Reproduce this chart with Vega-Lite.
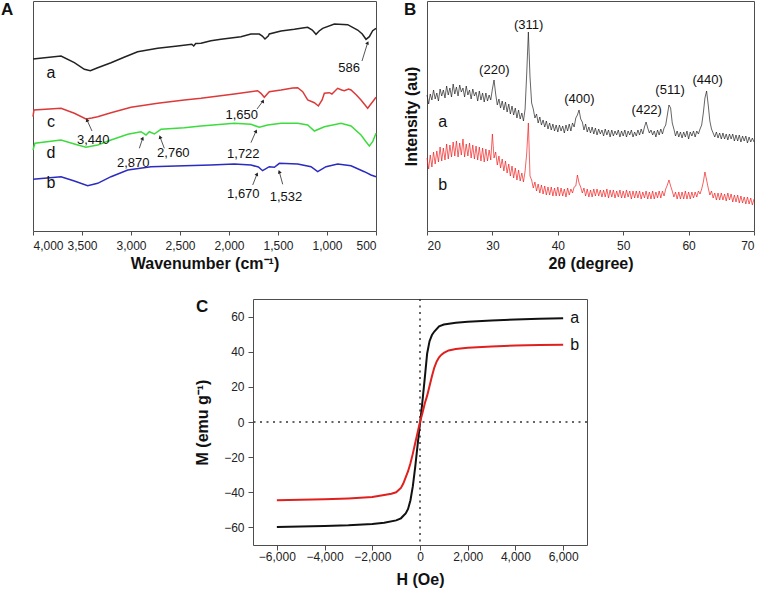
{
  "$schema": "https://vega.github.io/schema/vega-lite/v6.json",
  "padding": {"left": 0, "top": 0, "right": 0, "bottom": 0},
  "background": "white",
  "config": {
    "font": "Liberation Sans",
    "view": {"stroke": "#4d4d4d", "strokeWidth": 1},
    "axis": {"labelFont": "Liberation Sans", "labelFontSize": 12, "labelColor": "#222", "titleFont": "Liberation Sans", "titleFontSize": 16, "titleFontWeight": "bold", "titleColor": "#111", "grid": false, "domain": false, "ticks": true, "tickColor": "#4d4d4d", "tickSize": 4},
    "title": {"font": "Liberation Sans", "fontSize": 17, "fontWeight": "bold", "anchor": "start", "frame": "group", "color": "#111", "baseline": "top", "offset": 0}
  },
  "datasets": {
    "ftir": [
      {"s":"a","w":4000,"v":172},{"s":"a","w":3714,"v":175},{"s":"a","w":3578,"v":168.3},{"s":"a","w":3476,"v":161.7},{"s":"a","w":3415,"v":160.3},{"s":"a","w":3340,"v":163.3},{"s":"a","w":3204,"v":168.3},{"s":"a","w":3071,"v":173.7},{"s":"a","w":2932,"v":179.3},{"s":"a","w":2728,"v":182.7},{"s":"a","w":2524,"v":185},{"s":"a","w":2380,"v":186.7},{"s":"a","w":2360,"v":185},{"s":"a","w":2340,"v":187.5},{"s":"a","w":2286,"v":187.7},{"s":"a","w":2184,"v":190.3},{"s":"a","w":2082,"v":191.7},{"s":"a","w":1878,"v":194.3},{"s":"a","w":1776,"v":197},{"s":"a","w":1691,"v":197},{"s":"a","w":1660,"v":195},{"s":"a","w":1633,"v":192},{"s":"a","w":1600,"v":195},{"s":"a","w":1589,"v":197},{"s":"a","w":1469,"v":200},{"s":"a","w":1333,"v":201.7},{"s":"a","w":1250,"v":203},{"s":"a","w":1197,"v":203.7},{"s":"a","w":1150,"v":201},{"s":"a","w":1112,"v":196.7},{"s":"a","w":1080,"v":200},{"s":"a","w":1044,"v":202.7},{"s":"a","w":925,"v":207},{"s":"a","w":789,"v":206.3},{"s":"a","w":687,"v":201},{"s":"a","w":640,"v":197},{"s":"a","w":602,"v":191.7},{"s":"a","w":568,"v":194.3},{"s":"a","w":534,"v":200.3},{"s":"a","w":500,"v":202.7},
      {"s":"c","w":4000,"v":114.3},{"s":"c","w":3990,"v":121},{"s":"c","w":3714,"v":122.7},{"s":"c","w":3578,"v":117.7},{"s":"c","w":3460,"v":112},{"s":"c","w":3400,"v":113},{"s":"c","w":3340,"v":114.3},{"s":"c","w":3204,"v":118.3},{"s":"c","w":3000,"v":123.7},{"s":"c","w":2728,"v":127.7},{"s":"c","w":2456,"v":131},{"s":"c","w":2286,"v":132.7},{"s":"c","w":1946,"v":137},{"s":"c","w":1708,"v":140.3},{"s":"c","w":1674,"v":137.7},{"s":"c","w":1640,"v":133.7},{"s":"c","w":1610,"v":137},{"s":"c","w":1589,"v":139.3},{"s":"c","w":1469,"v":141},{"s":"c","w":1350,"v":143},{"s":"c","w":1299,"v":143.3},{"s":"c","w":1248,"v":139.3},{"s":"c","w":1197,"v":131},{"s":"c","w":1129,"v":128.3},{"s":"c","w":1088,"v":125},{"s":"c","w":1050,"v":131},{"s":"c","w":1027,"v":137.7},{"s":"c","w":976,"v":138.3},{"s":"c","w":950,"v":137},{"s":"c","w":891,"v":142.7},{"s":"c","w":850,"v":141},{"s":"c","w":823,"v":140.3},{"s":"c","w":780,"v":142},{"s":"c","w":755,"v":141},{"s":"c","w":700,"v":136},{"s":"c","w":653,"v":131},{"s":"c","w":585,"v":122.7},{"s":"c","w":560,"v":126},{"s":"c","w":534,"v":129.3},{"s":"c","w":500,"v":133.7},
      {"s":"d","w":4000,"v":81},{"s":"d","w":3980,"v":87.7},{"s":"d","w":3714,"v":91},{"s":"d","w":3578,"v":87},{"s":"d","w":3460,"v":83.7},{"s":"d","w":3340,"v":86},{"s":"d","w":3204,"v":91},{"s":"d","w":3033,"v":96.7},{"s":"d","w":2898,"v":99.3},{"s":"d","w":2847,"v":96},{"s":"d","w":2813,"v":99.3},{"s":"d","w":2762,"v":97},{"s":"d","w":2694,"v":101.7},{"s":"d","w":2456,"v":103.3},{"s":"d","w":2286,"v":105},{"s":"d","w":1946,"v":107.7},{"s":"d","w":1776,"v":106.7},{"s":"d","w":1691,"v":103.7},{"s":"d","w":1605,"v":106},{"s":"d","w":1469,"v":107.7},{"s":"d","w":1299,"v":107.7},{"s":"d","w":1197,"v":106},{"s":"d","w":1129,"v":100},{"s":"d","w":1027,"v":104.3},{"s":"d","w":857,"v":107.7},{"s":"d","w":755,"v":105},{"s":"d","w":653,"v":96},{"s":"d","w":600,"v":89},{"s":"d","w":568,"v":85},{"s":"d","w":534,"v":89.3},{"s":"d","w":500,"v":97.7},
      {"s":"b","w":4000,"v":51.7},{"s":"b","w":3714,"v":54.3},{"s":"b","w":3578,"v":50},{"s":"b","w":3442,"v":45.3},{"s":"b","w":3340,"v":47.7},{"s":"b","w":3204,"v":54.3},{"s":"b","w":3033,"v":61},{"s":"b","w":2796,"v":64.3},{"s":"b","w":2456,"v":65.3},{"s":"b","w":2184,"v":66},{"s":"b","w":1946,"v":67},{"s":"b","w":1776,"v":66},{"s":"b","w":1700,"v":64},{"s":"b","w":1657,"v":60.3},{"s":"b","w":1589,"v":64.3},{"s":"b","w":1537,"v":63.7},{"s":"b","w":1486,"v":67.7},{"s":"b","w":1299,"v":67},{"s":"b","w":1163,"v":64.3},{"s":"b","w":1095,"v":59.3},{"s":"b","w":1010,"v":64.3},{"s":"b","w":891,"v":67},{"s":"b","w":755,"v":65.3},{"s":"b","w":619,"v":59.3},{"s":"b","w":551,"v":56},{"s":"b","w":500,"v":54.3}
    ],
    "ftirSeriesLabels": [
      {"t":"a","w":3816,"v":158.3},{"t":"c","w":3816,"v":109.3},{"t":"d","w":3816,"v":78.3},{"t":"b","w":3816,"v":48.3}
    ],
    "ftirPeakLabels": [
      {"t":"586","w":775,"v":163},{"t":"1,650","w":1870,"v":116},{"t":"3,440","w":3385,"v":91},{"t":"2,870","w":2977,"v":68.3},{"t":"2,760","w":2568,"v":77.7},{"t":"1,722","w":1854,"v":77},{"t":"1,670","w":1854,"v":37},{"t":"1,532","w":1418,"v":34.3}
    ],
    "ftirArrows": [
      {"p":"586","w1":643,"v1":170,"w2":585,"v2":188.3},
      {"p":"1650","w1":1714,"v1":122,"w2":1653,"v2":130},
      {"p":"3440","w1":3398,"v1":100,"w2":3449,"v2":111},
      {"p":"2870","w1":2915,"v1":82.7,"w2":2881,"v2":92.7},
      {"p":"2760","w1":2660,"v1":82.7,"w2":2704,"v2":94},
      {"p":"1722","w1":1776,"v1":88.3,"w2":1724,"v2":100},
      {"p":"1670","w1":1758,"v1":46,"w2":1714,"v2":57},
      {"p":"1532","w1":1452,"v1":46.7,"w2":1487,"v2":59.3}
    ],
    "xrd": [
      {"s":"a","t":20,"v":136},{"s":"a","t":20.25,"v":127},{"s":"a","t":20.5,"v":137},{"s":"a","t":20.75,"v":131},{"s":"a","t":21,"v":141},{"s":"a","t":21.25,"v":132},{"s":"a","t":21.5,"v":138},{"s":"a","t":21.75,"v":130},{"s":"a","t":22,"v":142},{"s":"a","t":22.25,"v":135},{"s":"a","t":22.5,"v":141},{"s":"a","t":22.75,"v":133},{"s":"a","t":23,"v":145},{"s":"a","t":23.25,"v":136},{"s":"a","t":23.5,"v":143},{"s":"a","t":23.75,"v":134},{"s":"a","t":24,"v":147},{"s":"a","t":24.25,"v":137},{"s":"a","t":24.5,"v":144},{"s":"a","t":24.75,"v":135},{"s":"a","t":25,"v":146},{"s":"a","t":25.25,"v":139},{"s":"a","t":25.5,"v":143},{"s":"a","t":25.75,"v":134},{"s":"a","t":26,"v":145},{"s":"a","t":26.25,"v":136},{"s":"a","t":26.5,"v":141},{"s":"a","t":26.75,"v":132},{"s":"a","t":27,"v":142},{"s":"a","t":27.25,"v":135},{"s":"a","t":27.5,"v":139},{"s":"a","t":27.75,"v":130},{"s":"a","t":28,"v":140},{"s":"a","t":28.25,"v":131},{"s":"a","t":28.5,"v":138},{"s":"a","t":28.75,"v":129},{"s":"a","t":29,"v":138},{"s":"a","t":29.25,"v":130},{"s":"a","t":29.5,"v":136},{"s":"a","t":29.75,"v":131},{"s":"a","t":30,"v":142},{"s":"a","t":30.25,"v":151},{"s":"a","t":30.5,"v":137},{"s":"a","t":30.75,"v":126},{"s":"a","t":31,"v":132},{"s":"a","t":31.25,"v":123},{"s":"a","t":31.5,"v":130},{"s":"a","t":31.75,"v":121},{"s":"a","t":32,"v":129},{"s":"a","t":32.25,"v":119},{"s":"a","t":32.5,"v":127},{"s":"a","t":32.75,"v":117},{"s":"a","t":33,"v":125},{"s":"a","t":33.25,"v":116},{"s":"a","t":33.5,"v":123},{"s":"a","t":33.75,"v":113},{"s":"a","t":34,"v":121},{"s":"a","t":34.25,"v":112},{"s":"a","t":34.5,"v":118},{"s":"a","t":34.75,"v":110},{"s":"a","t":35,"v":122},{"s":"a","t":35.25,"v":158},{"s":"a","t":35.5,"v":199},{"s":"a","t":35.75,"v":154},{"s":"a","t":36,"v":128},{"s":"a","t":36.25,"v":122},{"s":"a","t":36.5,"v":113},{"s":"a","t":36.75,"v":117},{"s":"a","t":37,"v":108},{"s":"a","t":37.25,"v":114},{"s":"a","t":37.5,"v":106},{"s":"a","t":37.75,"v":111},{"s":"a","t":38,"v":104},{"s":"a","t":38.25,"v":110},{"s":"a","t":38.5,"v":102},{"s":"a","t":38.75,"v":108},{"s":"a","t":39,"v":101},{"s":"a","t":39.25,"v":107},{"s":"a","t":39.5,"v":100},{"s":"a","t":39.75,"v":106},{"s":"a","t":40,"v":99},{"s":"a","t":40.25,"v":106},{"s":"a","t":40.5,"v":100},{"s":"a","t":40.75,"v":105},{"s":"a","t":41,"v":98},{"s":"a","t":41.25,"v":106},{"s":"a","t":41.5,"v":100},{"s":"a","t":41.75,"v":107},{"s":"a","t":42,"v":100},{"s":"a","t":42.25,"v":108},{"s":"a","t":42.5,"v":104},{"s":"a","t":42.75,"v":113},{"s":"a","t":43,"v":116},{"s":"a","t":43.25,"v":121},{"s":"a","t":43.5,"v":112},{"s":"a","t":43.75,"v":109},{"s":"a","t":44,"v":101},{"s":"a","t":44.25,"v":107},{"s":"a","t":44.5,"v":99},{"s":"a","t":44.75,"v":104},{"s":"a","t":45,"v":98},{"s":"a","t":45.25,"v":104},{"s":"a","t":45.5,"v":97},{"s":"a","t":45.75,"v":103},{"s":"a","t":46,"v":96},{"s":"a","t":46.25,"v":102},{"s":"a","t":46.5,"v":97},{"s":"a","t":46.75,"v":101},{"s":"a","t":47,"v":95},{"s":"a","t":47.25,"v":102},{"s":"a","t":47.5,"v":96},{"s":"a","t":47.75,"v":101},{"s":"a","t":48,"v":94},{"s":"a","t":48.25,"v":101},{"s":"a","t":48.5,"v":95},{"s":"a","t":48.75,"v":100},{"s":"a","t":49,"v":96},{"s":"a","t":49.25,"v":101},{"s":"a","t":49.5,"v":94},{"s":"a","t":49.75,"v":100},{"s":"a","t":50,"v":95},{"s":"a","t":50.25,"v":101},{"s":"a","t":50.5,"v":94},{"s":"a","t":50.75,"v":100},{"s":"a","t":51,"v":96},{"s":"a","t":51.25,"v":101},{"s":"a","t":51.5,"v":94},{"s":"a","t":51.75,"v":99},{"s":"a","t":52,"v":95},{"s":"a","t":52.25,"v":101},{"s":"a","t":52.5,"v":96},{"s":"a","t":52.75,"v":102},{"s":"a","t":53,"v":97},{"s":"a","t":53.25,"v":104},{"s":"a","t":53.5,"v":109},{"s":"a","t":53.75,"v":103},{"s":"a","t":54,"v":98},{"s":"a","t":54.25,"v":101},{"s":"a","t":54.5,"v":96},{"s":"a","t":54.75,"v":100},{"s":"a","t":55,"v":94},{"s":"a","t":55.25,"v":101},{"s":"a","t":55.5,"v":96},{"s":"a","t":55.75,"v":102},{"s":"a","t":56,"v":97},{"s":"a","t":56.25,"v":103},{"s":"a","t":56.5,"v":106},{"s":"a","t":56.75,"v":116},{"s":"a","t":57,"v":126},{"s":"a","t":57.25,"v":123},{"s":"a","t":57.5,"v":108},{"s":"a","t":57.75,"v":102},{"s":"a","t":58,"v":95},{"s":"a","t":58.25,"v":100},{"s":"a","t":58.5,"v":94},{"s":"a","t":58.75,"v":99},{"s":"a","t":59,"v":93},{"s":"a","t":59.25,"v":99},{"s":"a","t":59.5,"v":94},{"s":"a","t":59.75,"v":100},{"s":"a","t":60,"v":92},{"s":"a","t":60.25,"v":99},{"s":"a","t":60.5,"v":95},{"s":"a","t":60.75,"v":100},{"s":"a","t":61,"v":94},{"s":"a","t":61.25,"v":100},{"s":"a","t":61.5,"v":97},{"s":"a","t":61.75,"v":102},{"s":"a","t":62,"v":106},{"s":"a","t":62.25,"v":118},{"s":"a","t":62.5,"v":133},{"s":"a","t":62.75,"v":140},{"s":"a","t":63,"v":126},{"s":"a","t":63.25,"v":110},{"s":"a","t":63.5,"v":102},{"s":"a","t":63.75,"v":98},{"s":"a","t":64,"v":94},{"s":"a","t":64.25,"v":99},{"s":"a","t":64.5,"v":93},{"s":"a","t":64.75,"v":98},{"s":"a","t":65,"v":92},{"s":"a","t":65.25,"v":98},{"s":"a","t":65.5,"v":92},{"s":"a","t":65.75,"v":97},{"s":"a","t":66,"v":91},{"s":"a","t":66.25,"v":97},{"s":"a","t":66.5,"v":92},{"s":"a","t":66.75,"v":97},{"s":"a","t":67,"v":90},{"s":"a","t":67.25,"v":96},{"s":"a","t":67.5,"v":90},{"s":"a","t":67.75,"v":96},{"s":"a","t":68,"v":89},{"s":"a","t":68.25,"v":95},{"s":"a","t":68.5,"v":90},{"s":"a","t":68.75,"v":95},{"s":"a","t":69,"v":88},{"s":"a","t":69.25,"v":94},{"s":"a","t":69.5,"v":89},{"s":"a","t":69.75,"v":93},{"s":"a","t":70,"v":89},
      {"s":"b","t":20,"v":73},{"s":"b","t":20.25,"v":62},{"s":"b","t":20.5,"v":76},{"s":"b","t":20.75,"v":64},{"s":"b","t":21,"v":79},{"s":"b","t":21.25,"v":67},{"s":"b","t":21.5,"v":80},{"s":"b","t":21.75,"v":69},{"s":"b","t":22,"v":84},{"s":"b","t":22.25,"v":70},{"s":"b","t":22.5,"v":83},{"s":"b","t":22.75,"v":71},{"s":"b","t":23,"v":87},{"s":"b","t":23.25,"v":72},{"s":"b","t":23.5,"v":86},{"s":"b","t":23.75,"v":74},{"s":"b","t":24,"v":89},{"s":"b","t":24.25,"v":75},{"s":"b","t":24.5,"v":90},{"s":"b","t":24.75,"v":74},{"s":"b","t":25,"v":88},{"s":"b","t":25.25,"v":76},{"s":"b","t":25.5,"v":92},{"s":"b","t":25.75,"v":74},{"s":"b","t":26,"v":87},{"s":"b","t":26.25,"v":75},{"s":"b","t":26.5,"v":88},{"s":"b","t":26.75,"v":73},{"s":"b","t":27,"v":86},{"s":"b","t":27.25,"v":72},{"s":"b","t":27.5,"v":85},{"s":"b","t":27.75,"v":71},{"s":"b","t":28,"v":84},{"s":"b","t":28.25,"v":70},{"s":"b","t":28.5,"v":83},{"s":"b","t":28.75,"v":69},{"s":"b","t":29,"v":82},{"s":"b","t":29.25,"v":70},{"s":"b","t":29.5,"v":81},{"s":"b","t":29.75,"v":71},{"s":"b","t":30,"v":97},{"s":"b","t":30.25,"v":73},{"s":"b","t":30.5,"v":79},{"s":"b","t":30.75,"v":66},{"s":"b","t":31,"v":75},{"s":"b","t":31.25,"v":63},{"s":"b","t":31.5,"v":72},{"s":"b","t":31.75,"v":60},{"s":"b","t":32,"v":70},{"s":"b","t":32.25,"v":58},{"s":"b","t":32.5,"v":67},{"s":"b","t":32.75,"v":55},{"s":"b","t":33,"v":65},{"s":"b","t":33.25,"v":53},{"s":"b","t":33.5,"v":63},{"s":"b","t":33.75,"v":51},{"s":"b","t":34,"v":61},{"s":"b","t":34.25,"v":50},{"s":"b","t":34.5,"v":58},{"s":"b","t":34.75,"v":49},{"s":"b","t":35,"v":60},{"s":"b","t":35.25,"v":78},{"s":"b","t":35.5,"v":108},{"s":"b","t":35.75,"v":55},{"s":"b","t":36,"v":51},{"s":"b","t":36.25,"v":43},{"s":"b","t":36.5,"v":49},{"s":"b","t":36.75,"v":40},{"s":"b","t":37,"v":47},{"s":"b","t":37.25,"v":38},{"s":"b","t":37.5,"v":46},{"s":"b","t":37.75,"v":37},{"s":"b","t":38,"v":45},{"s":"b","t":38.25,"v":36},{"s":"b","t":38.5,"v":44},{"s":"b","t":38.75,"v":36},{"s":"b","t":39,"v":44},{"s":"b","t":39.25,"v":35},{"s":"b","t":39.5,"v":43},{"s":"b","t":39.75,"v":35},{"s":"b","t":40,"v":44},{"s":"b","t":40.25,"v":35},{"s":"b","t":40.5,"v":43},{"s":"b","t":40.75,"v":35},{"s":"b","t":41,"v":42},{"s":"b","t":41.25,"v":34},{"s":"b","t":41.5,"v":43},{"s":"b","t":41.75,"v":36},{"s":"b","t":42,"v":42},{"s":"b","t":42.25,"v":38},{"s":"b","t":42.5,"v":44},{"s":"b","t":42.75,"v":45},{"s":"b","t":43,"v":56},{"s":"b","t":43.25,"v":48},{"s":"b","t":43.5,"v":44},{"s":"b","t":43.75,"v":38},{"s":"b","t":44,"v":43},{"s":"b","t":44.25,"v":35},{"s":"b","t":44.5,"v":42},{"s":"b","t":44.75,"v":34},{"s":"b","t":45,"v":41},{"s":"b","t":45.25,"v":34},{"s":"b","t":45.5,"v":42},{"s":"b","t":45.75,"v":35},{"s":"b","t":46,"v":42},{"s":"b","t":46.25,"v":35},{"s":"b","t":46.5,"v":41},{"s":"b","t":46.75,"v":34},{"s":"b","t":47,"v":41},{"s":"b","t":47.25,"v":34},{"s":"b","t":47.5,"v":42},{"s":"b","t":47.75,"v":33},{"s":"b","t":48,"v":41},{"s":"b","t":48.25,"v":34},{"s":"b","t":48.5,"v":41},{"s":"b","t":48.75,"v":33},{"s":"b","t":49,"v":40},{"s":"b","t":49.25,"v":34},{"s":"b","t":49.5,"v":41},{"s":"b","t":49.75,"v":33},{"s":"b","t":50,"v":40},{"s":"b","t":50.25,"v":33},{"s":"b","t":50.5,"v":41},{"s":"b","t":50.75,"v":34},{"s":"b","t":51,"v":40},{"s":"b","t":51.25,"v":32},{"s":"b","t":51.5,"v":40},{"s":"b","t":51.75,"v":33},{"s":"b","t":52,"v":40},{"s":"b","t":52.25,"v":33},{"s":"b","t":52.5,"v":40},{"s":"b","t":52.75,"v":32},{"s":"b","t":53,"v":39},{"s":"b","t":53.25,"v":33},{"s":"b","t":53.5,"v":40},{"s":"b","t":53.75,"v":32},{"s":"b","t":54,"v":39},{"s":"b","t":54.25,"v":32},{"s":"b","t":54.5,"v":40},{"s":"b","t":54.75,"v":32},{"s":"b","t":55,"v":39},{"s":"b","t":55.25,"v":33},{"s":"b","t":55.5,"v":40},{"s":"b","t":55.75,"v":33},{"s":"b","t":56,"v":40},{"s":"b","t":56.25,"v":35},{"s":"b","t":56.5,"v":42},{"s":"b","t":56.75,"v":46},{"s":"b","t":57,"v":51},{"s":"b","t":57.25,"v":45},{"s":"b","t":57.5,"v":40},{"s":"b","t":57.75,"v":34},{"s":"b","t":58,"v":39},{"s":"b","t":58.25,"v":32},{"s":"b","t":58.5,"v":39},{"s":"b","t":58.75,"v":32},{"s":"b","t":59,"v":39},{"s":"b","t":59.25,"v":32},{"s":"b","t":59.5,"v":40},{"s":"b","t":59.75,"v":32},{"s":"b","t":60,"v":39},{"s":"b","t":60.25,"v":32},{"s":"b","t":60.5,"v":39},{"s":"b","t":60.75,"v":33},{"s":"b","t":61,"v":39},{"s":"b","t":61.25,"v":34},{"s":"b","t":61.5,"v":40},{"s":"b","t":61.75,"v":37},{"s":"b","t":62,"v":42},{"s":"b","t":62.25,"v":49},{"s":"b","t":62.5,"v":59},{"s":"b","t":62.75,"v":51},{"s":"b","t":63,"v":43},{"s":"b","t":63.25,"v":36},{"s":"b","t":63.5,"v":40},{"s":"b","t":63.75,"v":33},{"s":"b","t":64,"v":38},{"s":"b","t":64.25,"v":31},{"s":"b","t":64.5,"v":38},{"s":"b","t":64.75,"v":31},{"s":"b","t":65,"v":38},{"s":"b","t":65.25,"v":31},{"s":"b","t":65.5,"v":37},{"s":"b","t":65.75,"v":30},{"s":"b","t":66,"v":38},{"s":"b","t":66.25,"v":31},{"s":"b","t":66.5,"v":37},{"s":"b","t":66.75,"v":29},{"s":"b","t":67,"v":36},{"s":"b","t":67.25,"v":29},{"s":"b","t":67.5,"v":36},{"s":"b","t":67.75,"v":28},{"s":"b","t":68,"v":35},{"s":"b","t":68.25,"v":28},{"s":"b","t":68.5,"v":34},{"s":"b","t":68.75,"v":27},{"s":"b","t":69,"v":34},{"s":"b","t":69.25,"v":27},{"s":"b","t":69.5,"v":33},{"s":"b","t":69.75,"v":26},{"s":"b","t":70,"v":32}
    ],
    "xrdLabels": [
      {"t":"(311)","x":35.55,"v":206,"k":"peak"},{"t":"(220)","x":30.29,"v":161,"k":"peak"},{"t":"(400)","x":43.29,"v":132,"k":"peak"},{"t":"(422)","x":53.6,"v":121,"k":"peak"},{"t":"(511)","x":57.16,"v":141,"k":"peak"},{"t":"(440)","x":62.92,"v":151,"k":"peak"},
      {"t":"a","x":22.4,"v":109.3,"k":"series"},{"t":"b","x":22.4,"v":46,"k":"series"}
    ],
    "mh": [
      {"s":"a","h":-6000,"m":-59.7},{"s":"a","h":-5000,"m":-59.5},{"s":"a","h":-4000,"m":-59.2},{"s":"a","h":-3000,"m":-58.8},{"s":"a","h":-2000,"m":-58},{"s":"a","h":-1500,"m":-57.3},{"s":"a","h":-1000,"m":-56},{"s":"a","h":-800,"m":-54.8},{"s":"a","h":-600,"m":-52},{"s":"a","h":-500,"m":-49.5},{"s":"a","h":-400,"m":-44.5},{"s":"a","h":-300,"m":-36.5},{"s":"a","h":-200,"m":-25.5},{"s":"a","h":-100,"m":-13},{"s":"a","h":0,"m":-1},{"s":"a","h":100,"m":11.5},{"s":"a","h":200,"m":25},{"s":"a","h":300,"m":39},{"s":"a","h":400,"m":46},{"s":"a","h":500,"m":49.5},{"s":"a","h":600,"m":51.5},{"s":"a","h":800,"m":54.5},{"s":"a","h":1000,"m":55.5},{"s":"a","h":1500,"m":56.5},{"s":"a","h":2000,"m":57},{"s":"a","h":3000,"m":57.8},{"s":"a","h":4000,"m":58.3},{"s":"a","h":5000,"m":58.7},{"s":"a","h":6000,"m":59},
      {"s":"b","h":-6000,"m":-44.5},{"s":"b","h":-5000,"m":-44.3},{"s":"b","h":-4000,"m":-44},{"s":"b","h":-3000,"m":-43.5},{"s":"b","h":-2000,"m":-42.7},{"s":"b","h":-1500,"m":-41.5},{"s":"b","h":-1200,"m":-40.8},{"s":"b","h":-1000,"m":-40},{"s":"b","h":-800,"m":-37.5},{"s":"b","h":-700,"m":-35},{"s":"b","h":-600,"m":-31.5},{"s":"b","h":-500,"m":-28},{"s":"b","h":-400,"m":-23.5},{"s":"b","h":-300,"m":-18},{"s":"b","h":-200,"m":-12},{"s":"b","h":-100,"m":-6},{"s":"b","h":0,"m":0},{"s":"b","h":100,"m":5},{"s":"b","h":200,"m":10.5},{"s":"b","h":300,"m":15},{"s":"b","h":400,"m":20.5},{"s":"b","h":500,"m":26},{"s":"b","h":600,"m":31},{"s":"b","h":700,"m":34.5},{"s":"b","h":800,"m":36.8},{"s":"b","h":900,"m":38.3},{"s":"b","h":1000,"m":39.3},{"s":"b","h":1200,"m":40.7},{"s":"b","h":1500,"m":41.5},{"s":"b","h":2000,"m":42.3},{"s":"b","h":3000,"m":43},{"s":"b","h":4000,"m":43.5},{"s":"b","h":5000,"m":43.8},{"s":"b","h":6000,"m":44}
    ],
    "zeroLines": [{"z": 0}]
  },
  "spacing": 25,
  "resolve": {"scale": {"color": "independent"}},
  "vconcat": [
    {
      "spacing": 51,
      "bounds": "flush",
      "resolve": {"scale": {"color": "independent"}},
      "hconcat": [
        {
          "width": 343,
          "height": 230,
          "title": {"text": "A", "dx": -32, "dy": 22},
          "layer": [
            {
              "data": {"name": "ftir"},
              "mark": {"type": "line", "strokeWidth": 1.5},
              "encoding": {
                "x": {"field": "w", "type": "quantitative", "scale": {"domain": [4000, 500], "nice": false, "zero": false}, "axis": {"values": [4000, 3500, 3000, 2500, 2000, 1500, 1000, 500], "format": ",.0f", "title": "Wavenumber (cm⁻¹)", "labelPadding": 5, "titlePadding": 4}},
                "y": {"field": "v", "type": "quantitative", "scale": {"domain": [0, 230], "nice": false, "zero": false}, "axis": null},
                "color": {"field": "s", "type": "nominal", "scale": {"domain": ["a", "c", "d", "b"], "range": ["#222222", "#dc3a3a", "#3ddc3d", "#2b2bc0"]}, "legend": null}
              }
            },
            {
              "data": {"name": "ftirSeriesLabels"},
              "mark": {"type": "text", "fontSize": 16, "color": "#111", "align": "center", "baseline": "middle"},
              "encoding": {
                "x": {"field": "w", "type": "quantitative"},
                "y": {"field": "v", "type": "quantitative"},
                "text": {"field": "t"}
              }
            },
            {
              "data": {"name": "ftirPeakLabels"},
              "mark": {"type": "text", "fontSize": 13, "color": "#111", "align": "center", "baseline": "middle"},
              "encoding": {
                "x": {"field": "w", "type": "quantitative"},
                "y": {"field": "v", "type": "quantitative"},
                "text": {"field": "t"}
              }
            },
            {
              "data": {"name": "ftirArrows"},
              "mark": {"type": "rule", "color": "#555", "strokeWidth": 1},
              "encoding": {
                "x": {"field": "w1", "type": "quantitative"},
                "y": {"field": "v1", "type": "quantitative"},
                "x2": {"field": "w2"},
                "y2": {"field": "v2"}
              }
            },
            {
              "data": {"name": "ftirArrows"},
              "transform": [{"filter": "datum.w1 > datum.w2"}],
              "mark": {"type": "point", "shape": "triangle-up", "filled": true, "color": "#222", "size": 16, "angle": 25, "opacity": 1},
              "encoding": {
                "x": {"field": "w2", "type": "quantitative"},
                "y": {"field": "v2", "type": "quantitative"}
              }
            },
            {
              "data": {"name": "ftirArrows"},
              "transform": [{"filter": "datum.w1 < datum.w2"}],
              "mark": {"type": "point", "shape": "triangle-up", "filled": true, "color": "#222", "size": 16, "angle": -20, "opacity": 1},
              "encoding": {
                "x": {"field": "w2", "type": "quantitative"},
                "y": {"field": "v2", "type": "quantitative"}
              }
            }
          ]
        },
        {
          "width": 327,
          "height": 230,
          "title": {"text": "B", "dx": -23, "dy": 22},
          "layer": [
            {
              "data": {"name": "xrd"},
              "mark": {"type": "line", "strokeWidth": 0.8, "opacity": 0.85},
              "encoding": {
                "x": {"field": "t", "type": "quantitative", "scale": {"domain": [20, 70], "nice": false, "zero": false}, "axis": {"values": [20, 30, 40, 50, 60, 70], "format": "d", "title": "2θ (degree)", "labelPadding": 5, "titlePadding": 4}},
                "y": {"field": "v", "type": "quantitative", "scale": {"domain": [0, 230], "nice": false, "zero": false}, "axis": {"labels": false, "ticks": false, "title": "Intensity (au)", "titlePadding": 8}},
                "color": {"field": "s", "type": "nominal", "scale": {"domain": ["a", "b"], "range": ["#1a1a1a", "#f01818"]}, "legend": null}
              }
            },
            {
              "data": {"name": "xrdLabels"},
              "transform": [{"filter": "datum.k == 'peak'"}],
              "mark": {"type": "text", "fontSize": 13, "color": "#111", "align": "center", "baseline": "middle"},
              "encoding": {
                "x": {"field": "x", "type": "quantitative"},
                "y": {"field": "v", "type": "quantitative"},
                "text": {"field": "t"}
              }
            },
            {
              "data": {"name": "xrdLabels"},
              "transform": [{"filter": "datum.k == 'series'"}],
              "mark": {"type": "text", "fontSize": 16, "color": "#111", "align": "center", "baseline": "middle"},
              "encoding": {
                "x": {"field": "x", "type": "quantitative"},
                "y": {"field": "v", "type": "quantitative"},
                "text": {"field": "t"}
              }
            }
          ]
        }
      ]
    },
    {
      "spacing": 0,
      "bounds": "flush",
      "resolve": {"scale": {"color": "independent"}},
      "hconcat": [
        {
          "width": 220,
          "height": 246,
          "view": {"stroke": null},
          "data": {"values": []},
          "mark": {"type": "point", "opacity": 0}
        },
        {
          "width": 334,
          "height": 246,
          "title": {"text": "C", "dx": -57, "dy": 22},
          "layer": [
            {
              "data": {"name": "zeroLines"},
              "mark": {"type": "rule", "color": "#333", "strokeDash": [2, 4.5], "strokeWidth": 1.5},
              "encoding": {"x": {"field": "z", "type": "quantitative"}}
            },
            {
              "data": {"name": "zeroLines"},
              "mark": {"type": "rule", "color": "#333", "strokeDash": [2, 4.5], "strokeWidth": 1.5},
              "encoding": {"y": {"field": "z", "type": "quantitative"}}
            },
            {
              "data": {"name": "mh"},
              "mark": {"type": "line", "strokeWidth": 2},
              "encoding": {
                "x": {"field": "h", "type": "quantitative", "scale": {"domain": [-7000, 7000], "nice": false}, "axis": {"values": [-6000, -4000, -2000, 0, 2000, 4000, 6000], "format": ",.0f", "title": "H (Oe)", "tickSize": 5, "labelPadding": 1, "titlePadding": 9}},
                "y": {"field": "m", "type": "quantitative", "scale": {"domain": [-70, 70], "nice": false}, "axis": {"values": [-60, -40, -20, 0, 20, 40, 60], "format": "d", "title": "M (emu g⁻¹)", "tickSize": 5, "labelPadding": 4, "titlePadding": 13}},
                "color": {"field": "s", "type": "nominal", "scale": {"domain": ["a", "b"], "range": ["#111111", "#e0201f"]}, "legend": null}
              }
            },
            {
              "data": {"name": "mh"},
              "transform": [{"filter": "datum.h == 6000"}],
              "mark": {"type": "text", "fontSize": 16, "color": "#111", "align": "left", "baseline": "middle", "dx": 7},
              "encoding": {
                "x": {"field": "h", "type": "quantitative"},
                "y": {"field": "m", "type": "quantitative"},
                "text": {"field": "s"}
              }
            }
          ]
        }
      ]
    }
  ]
}
